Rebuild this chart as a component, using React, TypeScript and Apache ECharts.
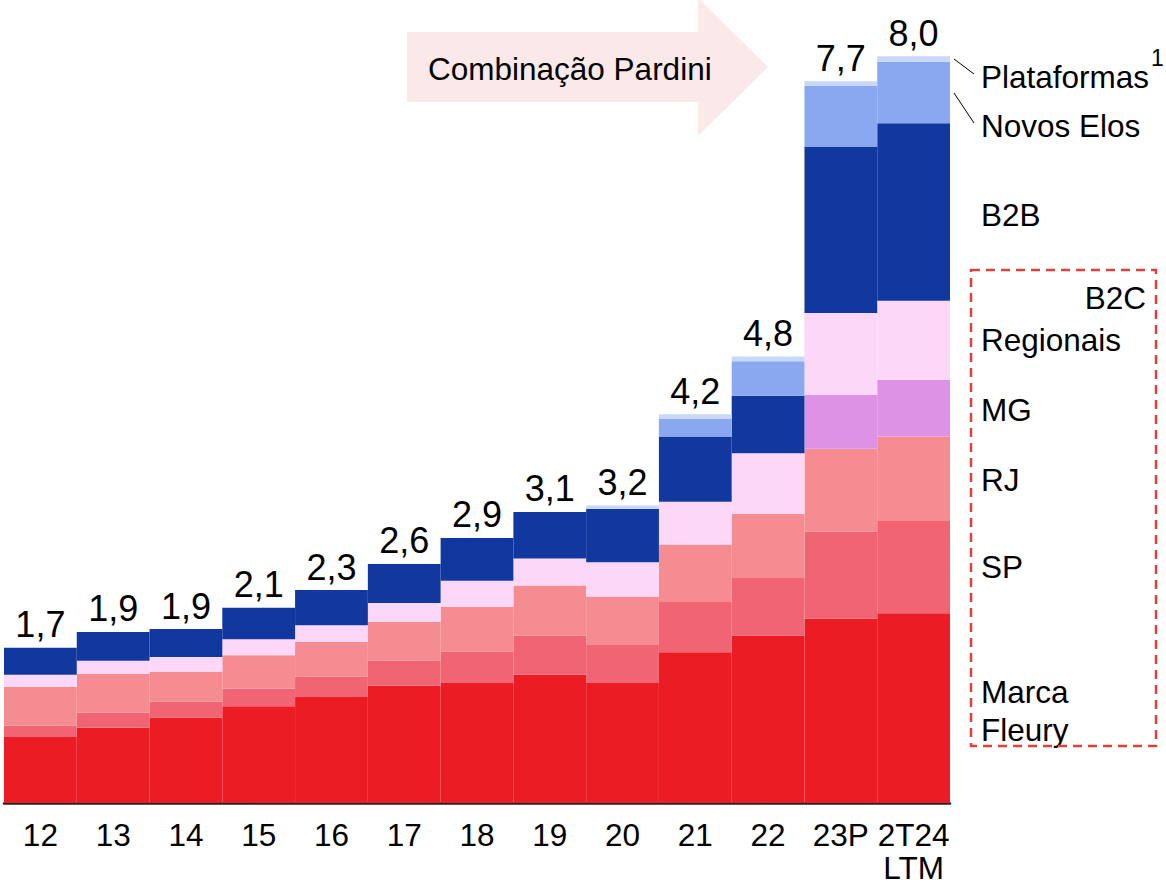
import React, { useEffect, useRef } from "react";
import * as echarts from "echarts";

const categories = ["12", "13", "14", "15", "16", "17", "18", "19", "20", "21", "22", "23P", "2T24\nLTM"];
const marcaFleury = [0.71, 0.81, 0.92, 1.04, 1.14, 1.26, 1.29, 1.38, 1.29, 1.62, 1.8, 1.98, 2.04];
const sp = [0.12, 0.16, 0.17, 0.19, 0.22, 0.27, 0.34, 0.42, 0.41, 0.54, 0.62, 0.94, 1.0];
const rj = [0.42, 0.42, 0.32, 0.36, 0.37, 0.42, 0.48, 0.54, 0.52, 0.62, 0.69, 0.89, 0.9];
const mg = [0, 0, 0, 0, 0, 0, 0, 0, 0, 0, 0, 0.58, 0.61];
const regionais = [0.13, 0.14, 0.16, 0.17, 0.18, 0.2, 0.28, 0.29, 0.37, 0.46, 0.65, 0.88, 0.85];
const b2b = [0.29, 0.31, 0.3, 0.34, 0.38, 0.42, 0.46, 0.5, 0.57, 0.7, 0.62, 1.79, 1.91];
const novosElos = [0, 0, 0, 0, 0, 0, 0, 0, 0, 0.19, 0.37, 0.65, 0.66];
const plataformas = [0, 0, 0, 0, 0, 0, 0, 0, 0.04, 0.05, 0.05, 0.05, 0.06];
const totalLabels = ["1,7", "1,9", "1,9", "2,1", "2,3", "2,6", "2,9", "3,1", "3,2", "4,2", "4,8", "7,7", "8,0"];

const seriesNames = ["Marca Fleury", "SP", "RJ", "MG", "Regionais", "B2B", "Novos Elos", "Plataformas"];
const seriesData = [marcaFleury, sp, rj, mg, regionais, b2b, novosElos, plataformas];
const seriesColors = ["#EC1C24", "#F06473", "#F48C92", "#DD92E6", "#FCD7F7", "#11389E", "#8AA8F0", "#C9D7F8"];

const FONT = "'Liberation Sans', Arial, sans-serif";
const FS = 31.5;

export default function App() {
  const ref = useRef<HTMLDivElement>(null);
  useEffect(() => {
    if (!ref.current) return;
    const chart = echarts.init(ref.current, undefined, { renderer: "svg", width: 1166, height: 886 });
    const last = seriesNames.length - 1;
    const series: any[] = seriesNames.map((name, i) => ({
      name,
      type: "bar",
      stack: "total",
      barCategoryGap: "0%",
      data: seriesData[i],
      itemStyle: { color: seriesColors[i] },
      label:
        i === last
          ? {
              show: true,
              position: "top",
              distance: 5,
              fontSize: 36,
              fontFamily: FONT,
              color: "#000",
              formatter: (p: any) => totalLabels[p.dataIndex],
            }
          : { show: false },
    }));

    const txt = (text: string, x: number, y: number, extra: any = {}) => ({
      type: "text",
      x,
      y,
      style: {
        text,
        fontSize: FS,
        fontFamily: FONT,
        fill: "#000",
        textVerticalAlign: "middle",
        ...extra,
      },
    });

    chart.setOption({
      animation: false,
      grid: {
        left: 4,
        width: 946,
        top: 12.5,
        height: 790.5,
        containLabel: false,
        outerBoundsMode: "none",
      },
      xAxis: {
        type: "category",
        data: categories,
        axisLine: { show: true, lineStyle: { color: "#222", width: 2.5 } },
        axisTick: { show: false },
        axisLabel: {
          fontSize: FS,
          fontFamily: FONT,
          color: "#000",
          margin: 15,
          lineHeight: 33,
          interval: 0,
        },
      },
      yAxis: { type: "value", min: 0, max: 8.5, show: false, splitLine: { show: false } },
      series,
      graphic: [
        {
          type: "polygon",
          shape: {
            points: [
              [407, 32],
              [698, 32],
              [698, -2],
              [768, 67],
              [698, 136],
              [698, 102],
              [407, 102],
            ],
          },
          style: { fill: "#FBE9E9" },
          z: 0,
        },
        txt("Combinação Pardini", 428, 69),
        txt("Plataformas", 981, 77),
        txt("1", 1151, 58, { fontSize: 23 }),
        txt("Novos Elos", 981, 126),
        txt("B2B", 981, 215),
        txt("B2C", 1146, 298, { textAlign: "right" }),
        txt("Regionais", 981, 340),
        txt("MG", 981, 410),
        txt("RJ", 981, 480),
        txt("SP", 981, 567),
        txt("Marca", 981, 692),
        txt("Fleury", 981, 730),
        {
          type: "line",
          shape: { x1: 954, y1: 59, x2: 974, y2: 74 },
          style: { stroke: "#000", lineWidth: 1 },
        },
        {
          type: "line",
          shape: { x1: 954, y1: 93, x2: 974, y2: 123 },
          style: { stroke: "#000", lineWidth: 1 },
        },
        {
          type: "rect",
          shape: { x: 971, y: 270, width: 185, height: 476 },
          style: { fill: "none", stroke: "#E0403A", lineWidth: 2.5, lineDash: [9, 6] },
        },
      ],
    });
    return () => chart.dispose();
  }, []);
  return (
    <div
      ref={ref}
      style={{ position: "absolute", left: 0, top: 0, width: 1166, height: 886, background: "#fff" }}
    />
  );
}
